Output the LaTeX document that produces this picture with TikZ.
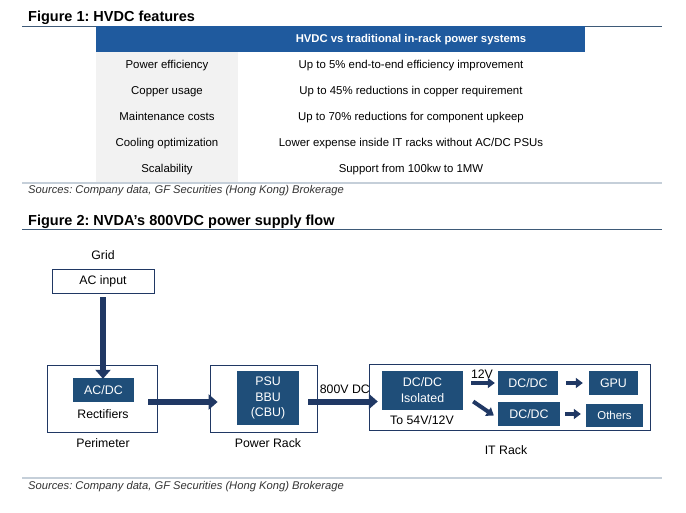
\documentclass[tikz,border=0pt]{standalone}
\usepackage{fontspec}
\setmainfont{Liberation Sans}
\usetikzlibrary{arrows.meta,calc}
\frenchspacing
\definecolor{hdrblue}{HTML}{1F5A9E}
\definecolor{navy}{HTML}{1F4E79}
\definecolor{arrnavy}{HTML}{203864}
\definecolor{rulecol}{HTML}{3E5A78}
\definecolor{lightrule}{HTML}{C5CFD9}
\definecolor{graycol}{HTML}{F2F2F2}
\definecolor{srcgray}{HTML}{333333}
\tikzset{
  figtitle/.style={anchor=base west,font=\fontsize{14.5}{16}\selectfont\bfseries,inner sep=0pt},
  srctext/.style={anchor=base west,font=\fontsize{11.2}{13}\selectfont\itshape,text=srcgray,inner sep=0pt},
  cell/.style={anchor=base,font=\fontsize{11.4}{13}\selectfont,inner sep=0pt},
  outline/.style={draw=arrnavy,line width=0.8pt,fill=white},
  darkbox/.style={fill=navy,text=white,font=\fontsize{12.4}{15.5}\selectfont,align=center,inner sep=0pt},
  lbl/.style={anchor=base,font=\fontsize{12.3}{14}\selectfont,inner sep=0pt},
  fat/.style={draw=arrnavy,line width=6pt,-{Triangle[length=9pt,width=15pt]}},
  slim/.style={draw=arrnavy,line width=4pt,-{Triangle[length=7pt,width=10pt]}}
}
\begin{document}
\begin{tikzpicture}[x=1pt,y=-1pt]
\useasboundingbox (0,0) rectangle (686,513);
% ---------- Figure 1 ----------
\node[figtitle] (t1) at (28,22) {Figure 1: HVDC features};
\draw[rulecol,line width=0.8pt] (22,26) -- (662,26);
\fill[hdrblue] (96,26.5) rectangle (585,52);
\fill[graycol] (96,52) rectangle (238,182);
\node[anchor=base,inner sep=0pt,text=white,font=\fontsize{11.3}{13}\selectfont\bfseries] (hdr) at (411,43) {HVDC vs traditional in-rack power systems};
\node[cell] (l1) at (167,68.5) {Power efficiency};
\node[cell] (l2) at (167,95) {Copper usage};
\node[cell] (l3) at (167,121) {Maintenance costs};
\node[cell] (l4) at (167,147) {Cooling optimization};
\node[cell] (l5) at (167,173) {Scalability};
\node[cell] (r1) at (411,68.5) {Up to 5\% end-to-end efficiency improvement};
\node[cell] (r2) at (411,95) {Up to 45\% reductions in copper requirement};
\node[cell] (r3) at (411,121) {Up to 70\% reductions for component upkeep};
\node[cell] (r4) at (411,147) {Lower expense inside IT racks without AC/DC PSUs};
\node[cell] (r5) at (411,173) {Support from 100kw to 1MW};
\draw[lightrule,line width=1.5pt] (22,183) -- (662,183);
\node[srctext] (s1) at (28,194) {Sources: Company data, GF Securities (Hong Kong) Brokerage};
% ---------- Figure 2 ----------
\node[figtitle] (t2) at (28,226) {Figure 2: NVDA’s 800VDC power supply flow};
\draw[rulecol,line width=0.8pt] (22,229) -- (662,229);

\node[lbl] (grid) at (103,260) {Grid};
\node[outline,minimum width=102pt,minimum height=24pt,inner sep=0pt,font=\fontsize{12.3}{14}\selectfont,line width=0.6pt] (acin) at (103,281) {AC input};

\node[outline,minimum width=110pt,minimum height=67pt] (perim) at (102,398.5) {};
\node[darkbox,minimum width=61pt,minimum height=24pt] (acdc) at (103.5,390) {AC/DC};
\node[lbl] (rect) at (103,418) {Rectifiers};
\node[lbl] (perlbl) at (103,447.5) {Perimeter};

\node[outline,minimum width=107pt,minimum height=67pt] (prack) at (263.5,398.5) {};
\node[darkbox,minimum width=62pt,minimum height=54pt] (psu) at (268,398) {PSU\\BBU\\(CBU)};
\node[lbl] (prlbl) at (268,447.5) {Power Rack};

\node[outline,minimum width=281pt,minimum height=66pt] (itrack) at (509.5,397) {};
\node[darkbox,minimum width=81pt,minimum height=39pt,font=\fontsize{12.4}{16}\selectfont] (iso) at (422.5,390.5) {DC/DC\\Isolated};
\node[lbl] (to54) at (422,424) {To 54V/12V};
\node[darkbox,minimum width=60pt,minimum height=24pt] (dc1) at (528,383) {DC/DC};
\node[darkbox,minimum width=62pt,minimum height=24pt] (dc2) at (529,414) {DC/DC};
\node[darkbox,minimum width=49pt,minimum height=24pt] (gpu) at (613.5,383) {GPU};
\node[darkbox,minimum width=57pt,minimum height=23pt,font=\fontsize{11.4}{13}\selectfont] (oth) at (614.5,415.5) {Others};
\node[lbl] (itlbl) at (506,454.5) {IT Rack};
\node[lbl] (v12) at (482,378) {12V};
\node[lbl,anchor=base east] (v800) at (370,393) {800V DC};

% connectors
\draw[fat] (acin.south) ++(0,4) coordinate (a1) -- ($(a1 |- acdc.north)+(0,1)$);
\draw[fat] (perim.east) ++(-9,3.5) coordinate (a2) -- ($(a2 -| prack.west)+(8,0)$);
\draw[fat] (psu.east) ++(9,3.5) coordinate (a3) -- ($(a3 -| iso.west)+(-4,0)$);
\draw[slim] (iso.east) ++(8,-7.5) coordinate (a4) -- ($(a4 -| dc1.west)+(-3,0)$);
\draw[slim] (iso.east) ++(10,11) coordinate (a5) -- ($(dc2.west)+(-4,1.5)$);
\draw[slim] (dc1.east) ++(8,0) coordinate (a6) -- ($(gpu.west)+(-6,0)$);
\draw[slim] (dc2.east) ++(5,0) coordinate (a7) -- ($(oth.west)+(-5,-1.5)$);

\draw[lightrule,line width=1.5pt] (22,478) -- (662,478);
\node[srctext] (s2) at (28,489) {Sources: Company data, GF Securities (Hong Kong) Brokerage};
\end{tikzpicture}
\end{document}
